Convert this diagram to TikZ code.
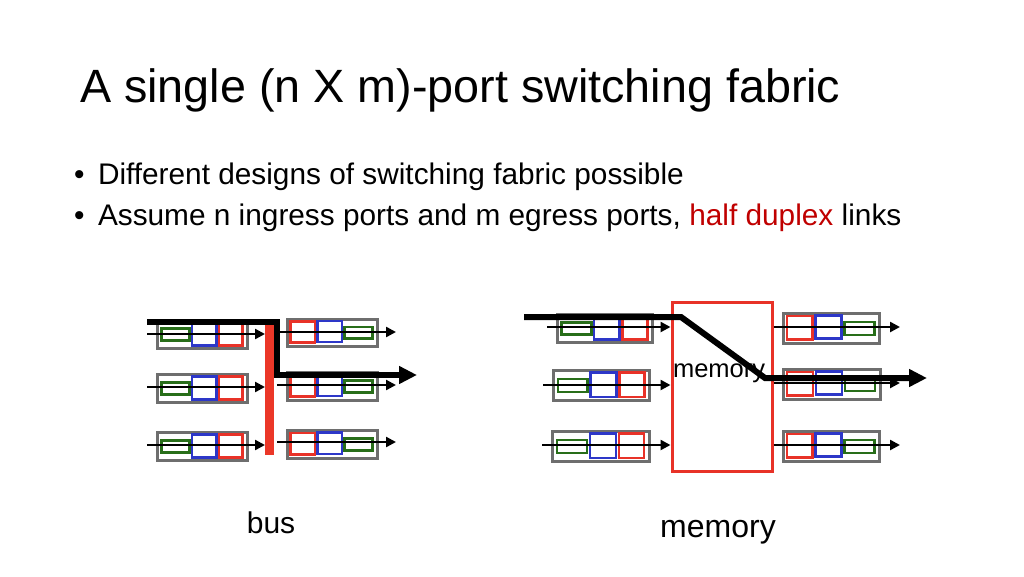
\documentclass[tikz,border=0pt]{standalone}
\usepackage{fontspec}
\setmainfont{Liberation Sans}
\usetikzlibrary{arrows.meta}
\definecolor{pgray}{RGB}{110,110,110}
\definecolor{pgreen}{RGB}{40,110,25}
\definecolor{pblue}{RGB}{45,55,200}
\definecolor{pred}{RGB}{232,50,40}
\definecolor{busred}{RGB}{235,55,40}
\definecolor{txtred}{RGB}{192,0,0}
\tikzset{
  pbox/.style={draw=pgray, line width=3pt, inner sep=0pt, outer sep=0pt, fill=white},
  gq/.style={draw=pgreen, line width=2.6pt},
  bq/.style={draw=pblue, line width=2.6pt},
  rq/.style={draw=pred, line width=2.6pt},
  farrow/.style={line width=2.4pt, -{Triangle[length=10pt,width=10pt]}},
  bigarrow/.style={line width=6pt, -{Triangle[length=18pt,width=17pt]}},
  txt/.style={inner sep=0pt, outer sep=0pt, anchor=base west},
}
\newcommand\inport[5]{%
  \node[pbox, minimum width=#4, minimum height=#5, anchor=north west] (#1) at (#2,#3) {};
  \begin{scope}[shift={(#2,#3)}]
    \draw[gq] (0.05*#4,0.3*#5) rectangle (0.36*#4,0.73*#5);
    \draw[bq] (0.39*#4,0.08*#5) rectangle (0.66*#4,0.9*#5);
    \draw[rq] (0.69*#4,0.08*#5) rectangle (0.95*#4,0.9*#5);
  \end{scope}}
\newcommand\outport[5]{%
  \node[pbox, minimum width=#4, minimum height=#5, anchor=north west] (#1) at (#2,#3) {};
  \begin{scope}[shift={(#2,#3)}]
    \draw[rq] (0.04*#4,0.1*#5) rectangle (0.31*#4,0.88*#5);
    \draw[bq] (0.34*#4,0.08*#5) rectangle (0.61*#4,0.85*#5);
    \draw[gq] (0.64*#4,0.3*#5) rectangle (0.95*#4,0.73*#5);
  \end{scope}}
\begin{document}
\begin{tikzpicture}[x=1pt, y=-1pt]
\useasboundingbox (0,0) rectangle (1024,576);
\fill[white] (0,0) rectangle (1024,576);

% title and bullets
\node[txt, font=\fontsize{46.7}{56}\selectfont] (title) at (80,102) {A single (n X m)-port switching fabric};
\node[txt, font=\fontsize{29.8}{36}\selectfont] (dot1) at (74,184) {•};
\node[txt, font=\fontsize{29.8}{36}\selectfont] (line1) at (98,184) {Different designs of switching fabric possible};
\node[txt, font=\fontsize{29.8}{36}\selectfont] (dot2) at (74,225) {•};
\node[txt, font=\fontsize{29.8}{36}\selectfont] (line2) at (98,225) {Assume n ingress ports and m egress ports, \textcolor{txtred}{half duplex} links};

% ===== bus fabric =====
\inport{bi1}{157}{320}{90}{28}
\inport{bi2}{157}{374}{90}{28}
\inport{bi3}{157}{432}{90}{28}
\outport{bo1}{287}{319}{90}{27}
\outport{bo2}{287}{372}{90}{28}
\outport{bo3}{287}{430}{90}{28}
\node[fill=busred, inner sep=0pt, minimum width=9, minimum height=133, anchor=north west] (bus) at (265,322) {};

\coordinate (bl1) at (147,334);
\coordinate (bl2) at (147,387);
\coordinate (bl3) at (147,445);
\draw[farrow] (bl1) -- (bl1 -| bus.west);
\draw[farrow] (bl2) -- (bl2 -| bus.west);
\draw[farrow] (bl3) -- (bl3 -| bus.west);
\coordinate (br1) at (277,332); \coordinate (br1e) at (396,332);
\coordinate (br2) at (277,385); \coordinate (br2e) at (396,385);
\coordinate (br3) at (277,442); \coordinate (br3e) at (396,442);
\draw[farrow] (br1) -- (br1e);
\draw[farrow] (br2) -- (br2e);
\draw[farrow] (br3) -- (br3e);

\coordinate (bs) at (147,322);
\coordinate (bc1) at (277,322);
\coordinate (bc2) at (277,375);
\coordinate (be) at (417,375);
\draw[bigarrow] (bs) -- (bc1) -- (bc2) -- (be);

\node[anchor=base, inner sep=0pt, font=\fontsize{30}{36}\selectfont] (buslbl) at (271,533) {bus};

% ===== memory fabric =====
\inport{mi1}{557}{314}{95}{28}
\inport{mi2}{553}{370}{96}{30}
\inport{mi3}{552}{431}{97}{30}
\outport{mo1}{783}{313}{96}{30}
\outport{mo2}{783}{369}{97}{30}
\outport{mo3}{783}{431}{96}{30}
\node[draw=pred, line width=3.2pt, inner sep=0pt, minimum width=100, minimum height=169, anchor=north west] (mem) at (670.5,300.5) {};
\node[txt, font=\fontsize{25.5}{30}\selectfont] (memin) at (673,377) {memory};

\coordinate (ml1) at (547,327);
\coordinate (ml2) at (543,385);
\coordinate (ml3) at (542,445);
\draw[farrow] (ml1) -- (ml1 -| mem.west);
\draw[farrow] (ml2) -- (ml2 -| mem.west);
\draw[farrow] (ml3) -- (ml3 -| mem.west);
\coordinate (mr1e) at (900,327);
\coordinate (mr2e) at (900,383);
\coordinate (mr3e) at (900,445);
\draw[farrow] (mr1e -| mem.east) -- (mr1e);
\draw[farrow] (mr2e -| mem.east) -- (mr2e);
\draw[farrow] (mr3e -| mem.east) -- (mr3e);

\coordinate (ms) at (524,317);
\coordinate (mc1) at (681,317);
\coordinate (mc2) at (765,378);
\coordinate (me) at (927,378);
\draw[bigarrow] (ms) -- (mc1) -- (mc2) -- (me);

\node[anchor=base, inner sep=0pt, font=\fontsize{32}{38}\selectfont] (memlbl) at (718,537) {memory};
\end{tikzpicture}
\end{document}
